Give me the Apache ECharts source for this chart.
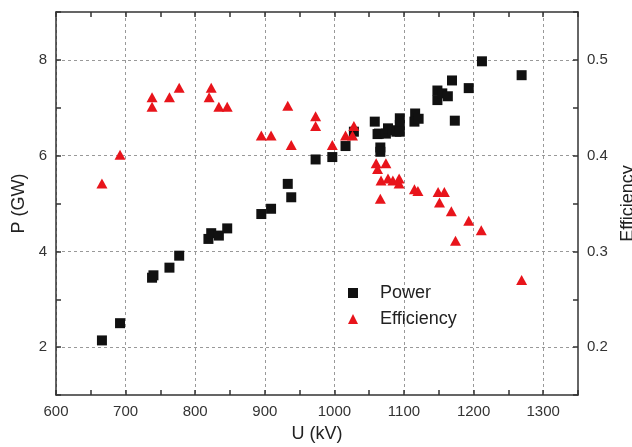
<!DOCTYPE html>
<html>
<head>
<meta charset="utf-8">
<script src="https://cdn.jsdelivr.net/npm/echarts@6/dist/echarts.min.js"></script>
<style>html,body{margin:0;padding:0;background:#fff}#c{width:632px;height:447px}</style>
</head>
<body>
<div id="c"></div>
<script>
// U (kV), P (GW)
const powerData = [
  [666,2.14],[692,2.50],[738,3.45],[740,3.50],[763,3.66],[777,3.91],[819,4.26],[823,4.38],[834,4.33],[846,4.48],
  [895,4.78],[909,4.89],[933,5.41],[938,5.13],[973,5.92],[997,5.97],[1016,6.20],[1028,6.50],
  [1058,6.71],[1062,6.45],[1064,6.46],[1066,6.17],[1066,6.08],[1074,6.46],[1077,6.57],[1084,6.53],[1089,6.50],
  [1094,6.78],[1094,6.64],[1094,6.50],[1116,6.88],[1115,6.71],[1121,6.77],
  [1148,7.36],[1148,7.16],[1155,7.30],[1163,7.24],[1169,7.57],[1173,6.73],[1193,7.41],[1212,7.97],[1269,7.68]
];
// U (kV), Efficiency
const efficiencyData = [
  [666,0.371],[692,0.401],[738,0.461],[738,0.451],[763,0.461],[777,0.471],[820,0.461],[823,0.471],[834,0.451],[846,0.451],
  [895,0.421],[909,0.421],[933,0.452],[938,0.411],[973,0.441],[973,0.431],[997,0.411],[1016,0.421],[1026,0.421],[1028,0.431],
  [1060,0.392],[1062,0.386],[1067,0.374],[1066,0.355],[1074,0.392],[1077,0.376],[1084,0.374],[1093,0.376],[1093,0.371],
  [1115,0.365],[1120,0.363],[1149,0.362],[1158,0.362],[1151,0.351],[1168,0.342],[1174,0.311],[1193,0.332],[1211,0.322],[1269,0.270]
];
const seriesNames = ['Power', 'Efficiency'];
const xTickLabels = [600,700,800,900,1000,1100,1200,1300];
const yLeftTickLabels = [2,4,6,8];
const yRightTickLabels = ['0.2','0.3','0.4','0.5'];

const FONT = '"Liberation Sans", Arial, Helvetica, sans-serif';
const AX = '#333';
const lineAx = {show:true, lineStyle:{color:AX, width:1.5}};
const tickIn = {show:true, inside:true, length:5, lineStyle:{color:AX, width:1.5}};

const chart = echarts.init(document.getElementById('c'));
chart.setOption({
  animation:false,
  backgroundColor:'#fff',
  grid:{left:56, right:54, top:12, bottom:52, containLabel:false, outerBoundsMode:'none'},
  legend:{
    orient:'vertical', left:343, top:279, itemGap:8,
    itemWidth:10, itemHeight:10,
    data:[{name:seriesNames[0], icon:'rect'},{name:seriesNames[1], icon:'triangle'}],
    textStyle:{fontFamily:FONT, fontSize:18, color:'#222', padding:[0,0,0,17]}
  },
  xAxis:[{
    type:'value', position:'bottom', min:600, max:1350, interval:50,
    name:'U (kV)', nameLocation:'middle', nameGap:30,
    nameTextStyle:{fontFamily:FONT, fontSize:18, color:'#222'},
    axisLine:lineAx, axisTick:tickIn,
    axisLabel:{fontFamily:FONT, fontSize:15, color:'#333', margin:9,
      formatter:v=>xTickLabels.indexOf(Math.round(v))>=0 ? String(Math.round(v)) : ''},
    splitLine:{show:true, lineStyle:{color:['#999','rgba(0,0,0,0)'], type:[3,3], width:1}}
  },{
    type:'value', position:'top', min:600, max:1350, interval:50,
    axisLine:lineAx, axisTick:tickIn, axisLabel:{show:false}, splitLine:{show:false}
  }],
  yAxis:[{
    type:'value', position:'left', min:1, max:9, interval:1,
    name:'P (GW)', nameLocation:'middle', nameGap:28, nameRotate:90,
    nameTextStyle:{fontFamily:FONT, fontSize:18, color:'#222'},
    axisLine:lineAx, axisTick:tickIn,
    axisLabel:{fontFamily:FONT, fontSize:15, color:'#333', margin:9,
      formatter:v=>yLeftTickLabels.indexOf(Math.round(v))>=0 ? String(Math.round(v)) : ''},
    splitLine:{show:true, lineStyle:{color:['rgba(0,0,0,0)','#999'], type:[3,3], width:1}}
  },{
    type:'value', position:'right', min:0.15, max:0.55, interval:0.05,
    name:'Efficiency', nameLocation:'middle', nameGap:33, nameRotate:90,
    nameTextStyle:{fontFamily:FONT, fontSize:18, color:'#222'},
    axisLine:lineAx, axisTick:tickIn,
    axisLabel:{fontFamily:FONT, fontSize:15, color:'#333', margin:9,
      formatter:v=>{const t=(Math.round(v*10)/10).toFixed(1); return yRightTickLabels.indexOf(t)>=0 && Math.abs(v*10-Math.round(v*10))<1e-6 ? t : '';}},
    splitLine:{show:false}
  }],
  series:[{
    name:seriesNames[0], type:'scatter', xAxisIndex:0, yAxisIndex:0,
    symbol:'rect', symbolSize:10, z:3,
    itemStyle:{color:'#111', opacity:1},
    data:powerData
  },{
    name:seriesNames[1], type:'scatter', xAxisIndex:0, yAxisIndex:1,
    symbol:'triangle', symbolSize:[11,10], z:4,
    itemStyle:{color:'#e8141b', opacity:1},
    data:efficiencyData
  }]
});
</script>
</body>
</html>
